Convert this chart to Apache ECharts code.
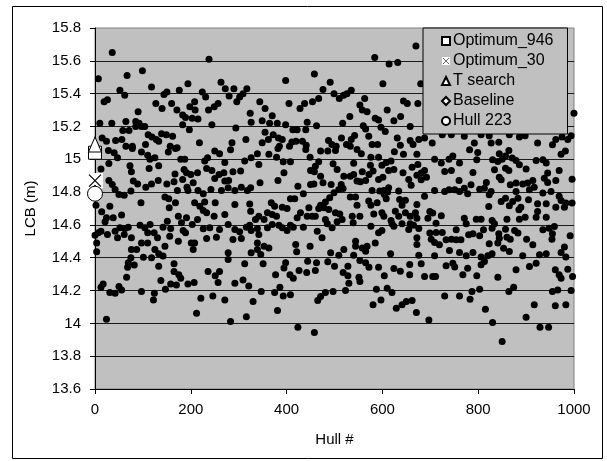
<!DOCTYPE html>
<html>
<head>
<meta charset="utf-8">
<script src="https://cdn.jsdelivr.net/npm/echarts@6/dist/echarts.min.js"></script>
<style>
  html, body { margin: 0; padding: 0; background: #fff; }
  #chart { width: 607px; height: 461px; }
</style>
</head>
<body>
<div id="chart"></div>
<script>
// Hull number vs. longitudinal centre of buoyancy (LCB, m) for the generated hull set
const hulls = [
  [36,15.65],[238,15.61],[99,15.54],[7,15.49],[67,15.51],[263,15.47],[194,15.46],[118,15.44],[52,15.42],[62,15.39],
  [176,15.42],[144,15.395],[150,15.41],[224,15.41],[231,15.38],[272,15.43],[290,15.43],[280,15.385],[317,15.43],[309,15.40],
  [302,15.38],[296,15.35],[19,15.35],[26,15.363],[127,15.34],[160,15.34],[140,15.31],[208,15.35],[198,15.32],[209,15.30],
  [171,15.30],[90,15.29],[237,15.30],[257,15.34],[249,15.32],[183,15.27],[189,15.255],[203,15.25],[215,15.245],[324,15.28],
  [326,15.225],[10,15.22],[35,15.22],[64.5,15.23],[85,15.23],[92,15.22],[85,15.20],[97,15.20],[104,15.20],[58,15.175],
  [71,15.175],[183,15.21],[197,15.18],[244,15.21],[294,15.19],[111,15.15],[119,15.135],[128,15.12],[133,15.11],[139,15.155],
  [149,15.15],[162,15.14],[15,15.13],[24,15.11],[43,15.115],[56,15.12],[64.5,15.08],[78,15.08],[105.5,15.09],[157,15.08],
  [171.5,15.07],[218,15.10],[286,15.10],[315,15.12],
  [670,15.69],[584,15.62],[614,15.58],[632,15.59],[458,15.52],[398,15.48],[491,15.47],[601,15.46],[476,15.425],[499,15.40],
  [535,15.42],[526,15.40],[519,15.39],[510,15.37],[467,15.37],[454,15.35],[437.5,15.34],[428,15.31],[405,15.34],[344,15.35],
  [355,15.31],[370,15.265],[563,15.37],[553,15.33],[558,15.30],[568,15.29],[644,15.355],[652,15.34],[674,15.34],[610,15.30],
  [532,15.26],[517,15.22],[585,15.25],[592,15.24],[638,15.26],[624,15.235],[349,15.235],[364.5,15.22],[380.5,15.22],[398,15.21],
  [443,15.225],[462.5,15.205],[560,15.205],[565,15.185],[597,15.195],[606,15.17],[658,15.20],[355,15.165],[413,15.18],[422,15.18],
  [440,15.18],[372,15.15],[383,15.13],[391,15.12],[362,15.12],[349,15.10],[411,15.105],[419.5,15.11],[433,15.11],[441,15.085],
  [487.5,15.115],[494.5,15.09],[503.5,15.08],[514.5,15.13],[525,15.09],[535,15.12],[542,15.145],[571.5,15.14],[578.5,15.09],[590,15.09],
  [631,15.13],[637.5,15.085],[658,15.115],[664,15.09],[676,15.12],[385,15.08],[406,15.08],[533,15.08],[680,15.46],[1000,15.28],
  [28,15.054],[40,15.04],[47,15.01],[78,15.066],[97,15.045],[110,15.025],[114.6,15.0],[125,15.01],[153,15.045],[168,15.066],
  [179,15.0],[187.5,15.0],[229,14.99],[235,15.01],[250,15.05],[260,15.033],[283,15.058],[271,14.98],[312.5,14.99],[326,15.01],
  [29,14.975],[12.5,14.94],[73,14.96],[76,14.924],[113,14.944],[133,14.96],[167,14.91],[186,14.938],[191,14.918],[200,14.907],
  [214,14.918],[233,14.944],[244,14.932],[250,14.883],[259,14.907],[269,14.918],[288,14.924],[304,14.928],[271,14.867],[279,14.87],
  [29,14.87],[36,14.846],[80,14.867],[89,14.85],[106,14.83],[118,14.85],[132,14.87],[150,14.85],[165,14.863],[183,14.877],
  [192,14.83],[194,14.81],[205,14.857],[215,14.81],[226,14.79],[242,14.816],[264,14.81],[278,14.826],[292,14.81],[305.5,14.83],
  [318,14.81],[325,14.826],[42,14.816],[50,14.786],[61,14.78],[75,14.806],[172,14.81],[146,14.77],[154,14.76],[168,14.735],
  [155,14.704],[96,14.735],[31,14.714],[14,14.68],[2,14.72],[24,14.643],[21,14.62],[38,14.643],[55.5,14.66],[208,14.735],
  [219,14.714],[229,14.74],[226,14.688],[233,14.674],[251,14.735],[248.6,14.653],[271,14.663],[292,14.725],[323,14.728],[325,14.684],
  [174,14.653],[191,14.643],[214,14.633],[151,14.623],[180.5,14.613],[203,14.603],[7,14.552],[0,14.537],[12.5,14.562],[26,14.541],
  [42,14.562],[52,14.582],[62.5,14.578],[69.5,14.586],[47,14.521],[61,14.541],[76,14.521],[94,14.598],[104,14.582],[115,14.603],
  [110,14.552],[123.6,14.552],[130.5,14.521],[142,14.586],[158,14.578],[156,14.531],[184,14.566],[189,14.552],[226,14.576],[239.6,14.582],
  [260,14.572],[278,14.603],[292,14.572],[302,14.558],[316,14.586],[323,14.598],[326,14.566],[253.5,14.525],[233,14.517],[288,14.511],
  [305.5,14.517],[201,14.49],[208,14.49],[205,14.45],[174,14.50],[146,14.47],[125,14.45],[110,14.49],[97,14.49],[87,14.45],
  [76,14.45],[75,14.40],[69.5,14.369],[68,14.342],[82,14.355],[101,14.403],[118,14.40],[133,14.424],[142,14.41],[3.5,14.49],
  [3.5,14.436],[133,14.348],[165,14.363],[278,14.43],[278,14.389],[312.5,14.363],[326,14.43],
  [339,15.033],[363,15.03],[379,15.013],[382,15.066],[440,15.06],[449,15.013],[471,15.05],[486,15.05],[502,15.054],[547,15.06],
  [556,15.033],[576,15.013],[592,15.013],[625,15.046],[644,15.03],[672,15.03],[342,14.968],[393,14.985],[408,14.985],[467,14.985],
  [460,14.958],[450,14.932],[458,14.924],[497,14.972],[505.5,14.938],[540,14.976],[575,14.964],[599,14.964],[608,14.98],[618,14.99],
  [613,14.932],[624,14.938],[643,14.918],[662,14.952],[674,14.968],[394.5,14.918],[519.5,14.897],[533,14.897],[540,14.907],[558,14.924],
  [580.5,14.928],[572,14.907],[471,14.897],[382,14.87],[344.5,14.857],[423.6,14.836],[450,14.846],[457,14.85],[476,14.857],[493,14.846],
  [514,14.846],[547,14.867],[554,14.863],[565,14.87],[592,14.877],[601,14.891],[655,14.877],[660,14.842],[672,14.903],[509,14.816],
  [499,14.796],[518,14.822],[578.5,14.81],[594.5,14.806],[603,14.81],[613,14.826],[634,14.806],[435,14.79],[490,14.765],[481,14.74],
  [471,14.72],[478,14.704],[488,14.694],[467,14.70],[408,14.76],[417,14.76],[368,14.735],[375,14.714],[391,14.708],[401,14.70],
  [446.5,14.704],[533,14.77],[544,14.77],[547,14.72],[571.5,14.745],[576,14.72],[589,14.735],[604,14.785],[611,14.80],[608,14.76],
  [636,14.755],[648,14.75],[641,14.72],[672,14.725],[342,14.653],[360,14.674],[370,14.663],[379,14.653],[353,14.633],[335,14.633],
  [429,14.674],[422,14.643],[443,14.653],[453.5,14.653],[460,14.653],[481,14.633],[502,14.674],[511,14.667],[516,14.633],[505.5,14.619],
  [537,14.653],[553,14.653],[582,14.667],[599,14.674],[603,14.653],[618,14.627],[627,14.684],[634,14.653],[648,14.674],[658,14.653],
  [669,14.674],[672,14.64],[384,14.598],[391,14.582],[401,14.566],[408,14.598],[414,14.586],[370,14.603],[360,14.582],[339,14.578],
  [435,14.586],[485,14.607],[495,14.582],[539,14.613],[576,14.592],[620,14.607],[624,14.592],[641,14.607],[658,14.607],[655,14.572],
  [665,14.598],[676,14.578],[342,14.541],[464,14.562],[474,14.521],[592,14.552],[599,14.566],[672,14.521],[339,14.49],[353,14.47],
  [363,14.46],[339,14.45],[346,14.42],[419,14.48],[421,14.436],[449,14.47],[492,14.43],[509,14.415],[519.5,14.45],[544,14.50],
  [544,14.47],[558,14.46],[568,14.47],[565,14.44],[540,14.415],[585,14.49],[617,14.424],[672,14.48],[676,14.415],[351,14.363],
  [398,14.369],[394.5,14.338],[444,14.379],[462.5,14.369],[486,14.375],[500,14.348],[528,14.348],[553,14.383],[565,14.369],[572,14.342],
  [592,14.342],[624,14.334],[657,14.359],[637.5,14.318],
  [688,15.129],[704,15.099],[725,15.15],[744,15.15],[771,15.14],[792,15.099],[806,15.15],[823,15.143],[827,15.099],[843,15.103],
  [865,15.15],[886,15.135],[898,15.143],[924,15.099],[955,15.089],[962,15.12],[975,15.135],[987,15.12],[994,15.143],[782,15.058],
  [799,15.042],[864,15.054],[844,15.034],[973,15.03],[982,15.05],[709,15.0],[723,14.977],[739,15.0],[747,15.02],[761,14.977],
  [797,14.997],[830,14.997],[841,14.987],[850,15.0],[857,15.02],[871,15.007],[879,14.993],[886,14.967],[921,14.993],[935,14.997],
  [942,14.977],[688,14.932],[681,14.916],[730,14.926],[744,14.932],[789,14.92],[834,14.936],[857,14.946],[864,14.932],[900,14.94],
  [945,14.916],[969,14.932],[848,14.875],[692,14.891],[681,14.875],[760,14.871],[785,14.845],[817,14.859],[813,14.824],[844,14.89],
  [867,14.845],[879,14.855],[893,14.85],[903,14.855],[914,14.871],[917,14.83],[938,14.885],[945,14.859],[962,14.871],[996,14.879],
  [771,14.824],[709,14.81],[730,14.804],[739,14.814],[751,14.814],[761,14.804],[778,14.79],[803,14.818],[827,14.804],[823,14.784],
  [879,14.804],[907,14.814],[935,14.794],[952,14.804],[688,14.774],[848,14.743],[857,14.763],[872,14.743],[883,14.763],[905,14.753],
  [969,14.774],[973,14.749],[983,14.733],[996,14.733],[980,14.708],[962,14.708],[942,14.729],[924,14.729],[865,14.716],[889,14.708],
  [885,14.692],[822,14.712],[699,14.682],[705,14.672],[924,14.682],[695,14.641],[723,14.656],[712,14.61],[771,14.641],[775,14.607],
  [796,14.635],[806,14.635],[829,14.627],[834,14.607],[860,14.635],[886,14.635],[898,14.647],[921,14.647],[942,14.647],[699,14.55],
  [712,14.554],[725,14.554],[754,14.57],[780,14.54],[789,14.546],[803,14.534],[811,14.57],[829,14.58],[857,14.574],[876,14.566],
  [883,14.55],[843,14.546],[844,14.519],[860,14.525],[867,14.513],[901,14.513],[935,14.57],[948,14.58],[959,14.59],[955,14.546],
  [954,14.513],[992,14.534],[702,14.513],[709,14.493],[719,14.479],[733,14.51],[744,14.513],[754,14.51],[764,14.51],[823,14.485],
  [841,14.489],[853,14.458],[914,14.479],[740,14.444],[761,14.432],[775,14.412],[789,14.432],[806,14.404],[820,14.412],[829,14.424],
  [865,14.438],[893,14.412],[928,14.418],[942,14.424],[980,14.465],[973,14.432],[983,14.404],[709,14.412],[681,14.363],[733,14.351],
  [747,14.367],[751,14.343],[778,14.336],[813,14.377],[806,14.357],[879,14.326],[907,14.347],[921,14.367],[961,14.326],[987,14.33],
  [12.5,14.22],[17,14.24],[31,14.188],[42,14.184],[50,14.224],[55.5,14.204],[66,14.281],[24,14.025],[97,14.194],[124,14.184],
  [122,14.143],[137.5,14.261],[147,14.208],[158,14.24],[165,14.316],[175,14.296],[179,14.275],[170,14.234],[194,14.24],[207,14.249],
  [221,14.153],[212,14.062],[236,14.316],[251,14.29],[260,14.316],[257,14.249],[246,14.167],[271,14.143],[283,14.011],[292,14.245],
  [309,14.265],[321,14.228],[316,14.041],[330,14.133],
  [347,14.194],[377,14.296],[375,14.188],[386,14.22],[393,14.167],[407,14.296],[414,14.275],[408,14.174],[381,14.078],[423.6,13.976],
  [458,13.944],[426,14.322],[442,14.31],[460,14.322],[465,14.139],[471,14.163],[481,14.188],[497,14.194],[518,14.31],[528,14.29],
  [530,14.245],[523,14.2],[551,14.281],[553,14.255],[580.5,14.113],[587.5,14.208],[597,14.143],[604,14.29],[610,14.214],[620,14.188],
  [629,14.092],[641,14.113],[650,14.133],[662,14.139],[671,14.066],[657,14.296],
  [688,14.285],[705,14.285],[711,14.285],[730,14.167],[761,14.167],[768,14.296],[797,14.29],[787,14.194],[803,14.208],[783,14.147],
  [815,14.086],[830,14.005],[850,13.889],[841,14.281],[874,14.22],[864,14.194],[900,14.037],[917,14.113],[929,13.976],[947,13.976],
  [969,14.296],[973,14.275],[997,14.285],[955,14.194],[966,14.204],[994,14.2],[961,14.107],[983,14.113],[697,14.021]
];

// Reference designs, all plotted at the start of the hull axis
const optimum946 = [[0, 15.04]];
const optimum30  = [[0, 14.87]];
const tSearch    = [[0, 15.09]];
const baseline   = [[0, 14.80]];
const hull223    = [[0, 14.79]];

// Axis ranges and ticks
const xRange = { min: 0, max: 1000, step: 200 };
const yRange = { min: 13.6, max: 15.8, step: 0.2 };

const FONT = '"Liberation Sans", Arial, sans-serif';

// Cross marker drawn on a white square
const crossIcon = 'image://data:image/svg+xml;charset=utf-8,' + encodeURIComponent(
  '<svg xmlns="http://www.w3.org/2000/svg" width="32" height="32">' +
  '<rect width="32" height="32" fill="#ffffff"/>' +
  '<path d="M4 4L28 28M28 4L4 28" stroke="#000000" stroke-width="2.4" fill="none"/></svg>'
);

const hollow = { color: '#ffffff', borderColor: '#000000', borderWidth: 1, opacity: 1 };

const chart = echarts.init(document.getElementById('chart'), null, { renderer: 'canvas' });

chart.setOption({
  animation: false,
  backgroundColor: '#ffffff',
  textStyle: { fontFamily: FONT, color: '#000' },
  graphic: [{
    type: 'rect',
    shape: { x: 12.5, y: 6.5, width: 590, height: 452 },
    style: { fill: 'none', stroke: '#000', lineWidth: 1 },
    silent: true, z: 0
  }],
  grid: {
    left: 95, top: 28, right: 33, bottom: 72,
    show: true, backgroundColor: '#c0c0c0', borderColor: '#808080', borderWidth: 1
  },
  legend: {
    orient: 'vertical',
    left: 423, top: 28,
    width: 150,
    padding: [4, 14, 4, 18],
    itemWidth: 8, itemHeight: 8, itemGap: 2,
    backgroundColor: '#c0c0c0', borderColor: '#000', borderWidth: 1,
    textStyle: { fontFamily: FONT, fontSize: 16, color: '#000', lineHeight: 18, padding: [0, 0, 0, -2] },
    data: ['Optimum_946', 'Optimum_30', 'T search', 'Baseline', 'Hull 223'],
    z: 10
  },
  xAxis: {
    type: 'value',
    min: xRange.min, max: xRange.max, interval: xRange.step,
    name: 'Hull #', nameLocation: 'middle', nameGap: 43,
    nameTextStyle: { fontFamily: FONT, fontSize: 15, color: '#000' },
    axisLine: { show: true, lineStyle: { color: '#000', width: 1 } },
    axisTick: { show: true, inside: false, length: 5, lineStyle: { color: '#000' } },
    axisLabel: { fontFamily: FONT, fontSize: 15, color: '#000', margin: 13, formatter: v => String(v) },
    splitLine: { show: false }
  },
  yAxis: {
    type: 'value',
    min: yRange.min, max: yRange.max, interval: yRange.step,
    name: 'LCB (m)', nameLocation: 'middle', nameGap: 57,
    nameTextStyle: { fontFamily: FONT, fontSize: 15, color: '#000' },
    axisLine: { show: true, lineStyle: { color: '#000', width: 1 } },
    axisTick: { show: true, inside: false, length: 5, lineStyle: { color: '#000' } },
    axisLabel: {
      fontFamily: FONT, fontSize: 15, color: '#000', margin: 14,
      formatter: v => String(+v.toFixed(1))
    },
    splitLine: { show: true, showMaxLine: false, lineStyle: { color: '#1a1a1a', width: 1 } }
  },
  series: [
    {
      name: 'Hulls', type: 'scatter', data: hulls,
      symbol: 'circle', symbolSize: 7,
      itemStyle: { color: '#000', opacity: 1 }, clip: false, z: 3, silent: true
    },
    {
      name: 'Optimum_946', type: 'scatter', data: optimum946,
      symbol: 'rect', symbolSize: 13, itemStyle: hollow, clip: false, z: 5
    },
    {
      name: 'Optimum_30', type: 'scatter', data: optimum30,
      symbol: crossIcon, symbolSize: 16, itemStyle: { opacity: 1 }, clip: false, z: 5
    },
    {
      name: 'T search', type: 'scatter', data: tSearch,
      symbol: 'triangle', symbolSize: [13, 15], itemStyle: hollow, clip: false, z: 5
    },
    {
      name: 'Baseline', type: 'scatter', data: baseline,
      symbol: 'diamond', symbolSize: 14, itemStyle: hollow, clip: false, z: 5
    },
    {
      name: 'Hull 223', type: 'scatter', data: hull223,
      symbol: 'circle', symbolSize: 15, itemStyle: hollow, clip: false, z: 5
    }
  ]
});
</script>
</body>
</html>
